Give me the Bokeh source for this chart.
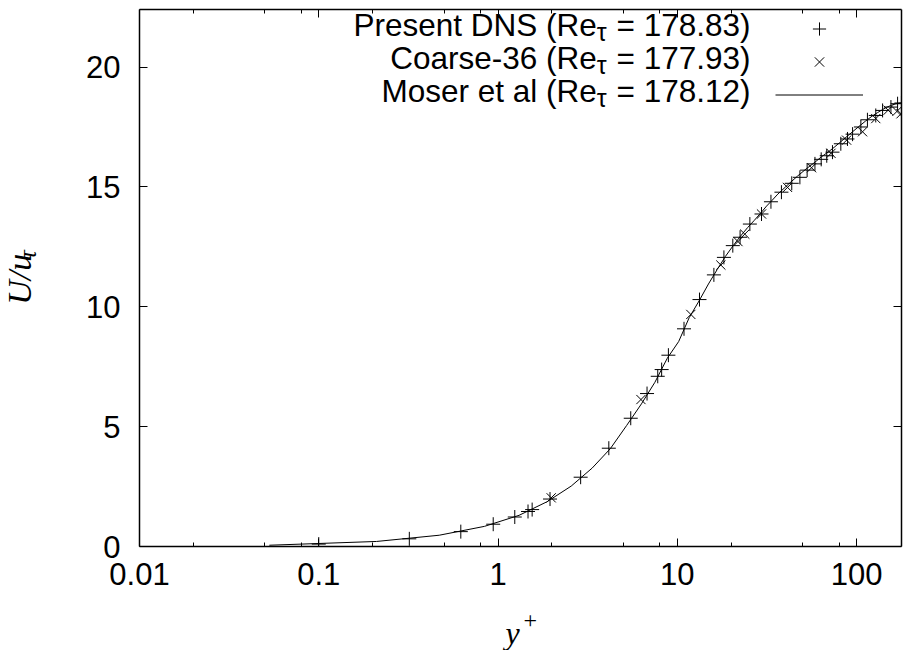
import math
from bokeh.plotting import figure
from bokeh.layouts import row, column
from bokeh.models import (FixedTicker, CustomJSTickFormatter, LinearAxis, LogAxis,
                          Label, Legend, LegendItem, Range1d)
from bokeh.embed import file_html
from bokeh.resources import INLINE

# ---------------- data ----------------
present_yplus = [0.1, 0.32, 0.62, 0.94, 1.24, 1.47, 1.55, 1.95, 2.89, 4.15, 5.5,
                 6.78, 7.78, 8.18, 8.92, 10.9, 13.3, 16.0, 18.2, 20.4, 22.4, 25.4,
                 29.5, 33.3, 38.1, 43.5, 48.3, 53.0, 58.6, 63.5, 68.2, 73.4, 81.7,
                 89.0, 95.0, 105.7, 115.0, 128.0, 139.7, 155.5, 169.4, 178.0]
present_u = [0.1, 0.32, 0.62, 0.93, 1.23, 1.46, 1.54, 1.98, 2.89, 4.1, 5.35,
             6.38, 7.1, 7.38, 7.98, 9.08, 10.3, 11.33, 12.06, 12.55, 12.9, 13.45,
             13.87, 14.38, 14.78, 15.15, 15.4, 15.7, 15.96, 16.15, 16.3, 16.45, 16.8,
             17.0, 17.2, 17.5, 17.8, 17.98, 18.19, 18.33, 18.47, 18.5]

coarse_yplus = [1.98, 6.27, 11.9, 17.5, 21.8, 23.8, 29.5, 41.2, 56.1, 72.0,
                88.0, 108.0, 128.0, 150.0, 168.0, 177.0]
coarse_u = [2.03, 6.13, 9.68, 11.74, 12.72, 13.03, 13.87, 14.98, 15.8, 16.4,
            16.95, 17.3, 17.85, 18.2, 18.15, 18.05]

moser_yplus = [0.053, 0.21, 0.47, 0.84, 1.31, 1.88, 2.56, 3.35, 4.23, 5.22, 6.31,
               7.50, 8.79, 10.18, 11.66, 13.24, 14.92, 16.69, 18.55, 20.50, 22.54,
               24.66, 26.86, 29.13, 31.48, 33.90, 36.38, 41.50, 46.83, 52.32, 57.92,
               63.59, 69.29, 74.97, 80.58, 91.6, 102.2, 112.4, 122.0, 131.0, 139.3,
               146.9, 153.7, 159.7, 164.8, 169.1, 172.5, 175.1, 176.8, 178.12]
moser_u = [0.053, 0.21, 0.47, 0.84, 1.30, 1.87, 2.52, 3.27, 4.08, 5.05, 5.95,
           6.85, 7.85, 8.55, 9.55, 10.25, 10.95, 11.55, 12.1, 12.55, 12.95,
           13.3, 13.6, 13.9, 14.2, 14.45, 14.7, 15.1, 15.45, 15.75, 16.0,
           16.25, 16.45, 16.65, 16.85, 17.2, 17.5, 17.75, 17.95, 18.1, 18.22,
           18.32, 18.38, 18.43, 18.46, 18.48, 18.49, 18.5, 18.5, 18.5]

x_major_ticks = [0.01, 0.1, 1, 10, 100]
x_minor_mult = [2, 5, 8]
y_ticks = [0, 5, 10, 15, 20]
x_limits = (0.01, 178.12)
y_limits = (0, 22.4)

legend_names = ["Present DNS (Re", "Coarse-36 (Re", "Moser et al (Re"]
legend_values = ["= 178.83)", "= 177.93)", "= 178.12)"]

# ---------------- layout constants (page pixels) ----------------
W, H = 903, 650
YLAB_W = 60          # strip left of the plot for the y title
XLAB_H = 50          # strip below the plot for the x title
L, R, T, B = 139, 901, 9, 546   # frame edges in page pixels
SANS = "Liberation Sans"
SERIF = "Liberation Serif"
FS = 31
LFS = 31.5
DY = 11              # baseline correction for Label text

x_minor_ticks = [d * m for d in x_major_ticks for m in x_minor_mult if d * m <= x_limits[1]]

main_w = W - YLAB_W
main_h = H - XLAB_H
p = figure(width=main_w, height=main_h, x_axis_type="log",
           x_range=Range1d(*x_limits), y_range=Range1d(*y_limits),
           output_backend="svg", toolbar_location=None,
           min_border_left=L - YLAB_W, min_border_right=W - R, min_border_top=T,
           min_border_bottom=main_h - B)
p.outline_line_color = None
p.grid.visible = False
p.background_fill_color = "white"
p.border_fill_color = "white"

xt = FixedTicker(ticks=x_major_ticks, minor_ticks=x_minor_ticks)
yt = FixedTicker(ticks=y_ticks, minor_ticks=[])
blank = CustomJSTickFormatter(code="return ''")


def style(ax, ticker, labels=True):
    ax.ticker = ticker
    ax.axis_line_color = "black"
    ax.axis_line_width = 1.5
    ax.major_tick_line_color = "black"
    ax.minor_tick_line_color = "black"
    ax.major_tick_line_width = 1
    ax.minor_tick_line_width = 1
    ax.major_tick_in = 8
    ax.major_tick_out = 0
    ax.minor_tick_in = 4
    ax.minor_tick_out = 0
    ax.major_label_text_font = SANS
    ax.major_label_text_font_size = f"{FS}px"
    ax.major_label_text_color = "black"
    if not labels:
        ax.formatter = blank
        ax.major_label_standoff = 0


xa = p.xaxis[0]
style(xa, xt)
xa.formatter = CustomJSTickFormatter(code="return tick.toString()")
xa.major_label_standoff = 16
ya = p.yaxis[0]
style(ya, yt)
ya.major_label_standoff = 19

top = LogAxis()
style(top, xt, labels=False)
p.add_layout(top, "above")
right = LinearAxis()
style(right, yt, labels=False)
p.add_layout(right, "right")

# ---------------- data glyphs ----------------
r_line = p.line(moser_yplus, moser_u, line_color="black", line_width=1)
r_plus = p.scatter(present_yplus, present_u, marker="cross", size=14,
                   line_color="black", line_width=1)
r_x = p.scatter(coarse_yplus, coarse_u, marker="x", size=13,
                line_color="black", line_width=1)

# ---------------- key (symbols via Legend, texts via Labels) ----------------
row_h = 33
key_top = 12
sample_left = 775
leg = Legend(items=[LegendItem(label=" ", renderers=[r_plus]),
                    LegendItem(label=" ", renderers=[r_x]),
                    LegendItem(label=" ", renderers=[r_line])],
             location=(sample_left - L, B - (key_top + 3 * row_h)),
             glyph_width=88, glyph_height=row_h, spacing=0, padding=0, margin=0,
             label_width=0, label_height=row_h, label_standoff=0,
             label_text_font_size="1px", border_line_color=None,
             background_fill_alpha=0)
p.add_layout(leg, "center")

# Arial / Liberation Sans advance widths (em/1000)
ADV = {" ": 278, "=": 584, ".": 278, ")": 333, "(": 333}
for d in "0123456789":
    ADV[d] = 556


def tw(s, size):
    return sum(ADV[c] for c in s) / 1000.0 * size


def add_frame_label(sx, sy, text, **kw):
    """Label positioned by page pixels, anchored to the frame's bottom-left corner."""
    p.add_layout(Label(x=x_limits[0], y=y_limits[0], x_offset=sx - L, y_offset=B - sy,
                       text=text, text_color="black", text_baseline="alphabetic", **kw))


text_right = 750
sub_fs = 25
tau_w = 0.44 * sub_fs
for i, (nm, val) in enumerate(zip(legend_names, legend_values)):
    base = 35 + row_h * i - DY
    val_left = text_right - tw(val, LFS)
    tau_left = val_left - tw(" ", LFS) - tau_w
    add_frame_label(val_left, base, val, text_font=SANS, text_font_size=f"{LFS}px",
                    text_align="left")
    add_frame_label(tau_left, base + 7, "τ", text_font=SANS,
                    text_font_size=f"{sub_fs}px", text_align="left")
    add_frame_label(tau_left, base, nm, text_font=SANS, text_font_size=f"{LFS}px",
                    text_align="right")

# ---------------- axis titles in their own strips ----------------
def strip(w, h, x0, y0):
    f = figure(width=w, height=h, x_range=Range1d(x0, x0 + w), y_range=Range1d(y0 + h, y0),
               output_backend="svg", toolbar_location=None,
               x_axis_location=None, y_axis_location=None, min_border=0)
    f.outline_line_color = None
    f.grid.visible = False
    f.background_fill_color = "white"
    f.border_fill_color = "white"
    return f


YT_FS = 34
ylab = strip(YLAB_W, main_h, 0, 0)
ylab.add_layout(Label(x=19, y=330, text="U/u", angle=math.pi / 2,
                      text_font=SERIF, text_font_style="italic", text_font_size=f"{YT_FS}px",
                      text_align="left", text_baseline="alphabetic", text_color="black"))
ylab.add_layout(Label(x=27, y=330 - 1.5 * YT_FS, text="τ", angle=math.pi / 2,
                      text_font=SERIF, text_font_style="italic", text_font_size="25px",
                      text_align="left", text_baseline="alphabetic", text_color="black"))

xlab = strip(W, XLAB_H, 0, main_h)
xlab.add_layout(Label(x=505, y=632, text="y", text_font=SERIF,
                      text_font_style="italic", text_font_size="32px",
                      text_align="left", text_baseline="alphabetic", text_color="black"))
xlab.add_layout(Label(x=523, y=620, text="+", text_font=SERIF,
                      text_font_size="24px", text_align="left",
                      text_baseline="alphabetic", text_color="black"))

layout = column(row(ylab, p), xlab)
open("out.html", "w").write(file_html(layout, INLINE))
